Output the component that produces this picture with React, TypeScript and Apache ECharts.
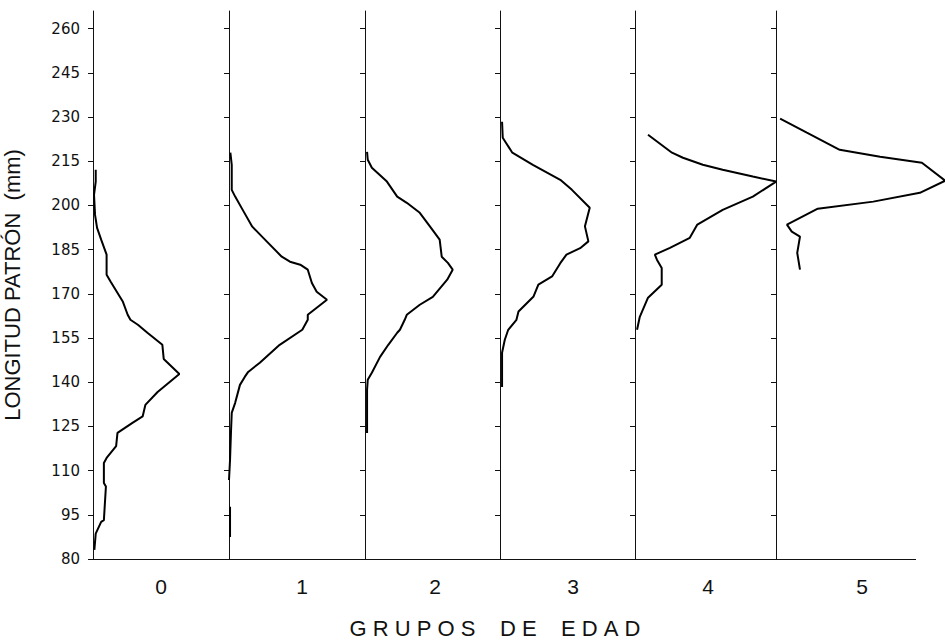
import React, { useEffect, useRef } from 'react';
import * as echarts from 'echarts';

// Length ticks (mm) on the vertical axis
const lengthTicks = [80, 95, 110, 125, 140, 155, 170, 185, 200, 215, 230, 245, 260];
// Age groups along the horizontal axis
const ageGroups = ['0', '1', '2', '3', '4', '5'];

// Each series: [length (mm), relative frequency (%)]
const edad0 = [
  [212.1, 0.4], [208.1, 0.4], [203.6, 0.15], [196.8, 0.3], [192.4, 0.6], [188.4, 1.2],
  [183.3, 2.0], [176.5, 2.0], [174.1, 2.6], [167.3, 4.4], [162.9, 5.1], [161.2, 5.5],
  [159.5, 6.6], [156.8, 8.0], [152.7, 10.2], [147.9, 10.4], [142.8, 12.7], [136.7, 9.5],
  [132.3, 7.7], [128.4, 7.3], [126.2, 5.8], [122.8, 3.6], [118.3, 3.4], [114.3, 2.0],
  [112.6, 1.6], [105.8, 1.6], [104.6, 1.9], [93.2, 1.6], [92.6, 1.2], [88.6, 0.4], [83.1, 0.2],
];
const edad1 = [
  [217.9, 0.2], [213.8, 0.4], [205.3, 0.4], [203.0, 0.9], [198.5, 2.0], [192.8, 3.4],
  [189.0, 5.0], [182.6, 7.7], [180.9, 8.9], [179.9, 10.4], [178.2, 11.5], [173.7, 12.1],
  [170.7, 12.8], [168.0, 14.3], [162.9, 11.5], [161.2, 11.5], [157.8, 10.7], [152.7, 7.4],
  [146.6, 4.5], [143.5, 2.8], [141.8, 2.3], [139.1, 1.6], [133.0, 0.9], [129.6, 0.4],
  [123.8, 0.3], [113.6, 0.15], [106.8, 0], [NaN, NaN], [97.7, 0.15], [87.5, 0.15],
];
const edad2 = [
  [218.2, 0.3], [215.5, 0.4], [212.8, 1.0], [208.1, 3.2], [203.0, 4.7], [200.9, 6.1],
  [197.5, 8.0], [192.8, 9.5], [188.4, 10.9], [182.6, 11.2], [180.5, 12.1], [178.2, 12.8],
  [174.8, 12.0], [169.0, 9.9], [166.3, 8.0], [162.9, 6.1], [161.2, 5.8], [157.8, 5.1],
  [156.8, 4.7], [152.7, 3.4], [148.6, 2.2], [143.2, 1.0], [140.8, 0.4], [137.4, 0.3], [122.8, 0.3],
];
const edad3 = [
  [228.4, 0.3], [223.0, 0.4], [217.9, 1.8], [213.8, 4.8], [208.7, 8.8], [205.3, 10.5],
  [199.2, 13.1], [192.9, 12.4], [187.8, 12.9], [185.5, 11.7], [183.3, 9.7], [180.4, 8.8],
  [175.9, 7.6], [173.1, 5.6], [169.1, 4.9], [164.0, 2.7], [161.2, 2.4], [157.8, 1.2],
  [154.4, 0.7], [150.0, 0.3], [138.4, 0.3],
];
const edad4 = [
  [224.0, 1.9], [217.9, 5.4], [216.2, 7.0], [213.8, 9.9], [212.1, 12.8], [209.8, 17.2],
  [208.1, 20.6], [203.0, 17.2], [198.5, 12.8], [193.5, 9.1], [189.0, 8.0], [185.6, 5.1],
  [183.3, 2.9], [181.6, 3.2], [178.8, 3.9], [173.1, 3.9], [168.7, 1.9], [162.2, 0.7], [157.8, 0.3],
];
const edad5 = [
  [229.5, 0.6], [224.7, 4.5], [218.9, 9.3], [216.5, 15.2], [214.5, 21.3], [208.4, 24.7],
  [204.3, 21.0], [201.3, 14.2], [198.9, 6.1], [193.5, 1.6], [191.1, 2.3], [189.4, 3.5],
  [183.9, 3.1], [178.2, 3.5],
];
const groupSeries = [edad0, edad1, edad2, edad3, edad4, edad5];

const yTitle = 'LONGITUD PATRÓN\u00A0\u00A0(mm)';
const xTitle = 'G\u00A0R\u00A0U\u00A0P\u00A0O\u00A0S\u00A0\u00A0\u00A0\u00A0D\u00A0E\u00A0\u00A0\u00A0\u00A0E\u00A0D\u00A0A\u00A0D';

// layout
const PANEL_EDGES = [92, 229, 365, 500, 635, 776, 916];
const CANVAS_RIGHT = 945;
const PX_PER_UNIT = 6.85;
const NAME_SHIFT = [0, 10, 5, 11, 5, 3];
const FONT = '"Liberation Sans", Arial, sans-serif';

export default function App() {
  const ref = useRef<HTMLDivElement>(null);
  useEffect(() => {
    const chart = echarts.init(ref.current as HTMLDivElement, null, { renderer: 'svg' });
    const grids: any[] = [];
    const xAxes: any[] = [];
    const yAxes: any[] = [];
    const series: any[] = [];
    const lineStyle = { color: '#111', width: 1 };
    const last = ageGroups.length - 1;
    ageGroups.forEach((g, i) => {
      const left = PANEL_EDGES[i];
      const axisWidth = PANEL_EDGES[i + 1] - left;
      // the last panel is allowed to run to the canvas edge (its curve overshoots the axis)
      const width = i === last ? CANVAS_RIGHT - left : axisWidth;
      grids.push({ left, width, top: 11, bottom: 81 });
      xAxes.push({
        gridIndex: i,
        type: 'value',
        min: 0,
        max: width / PX_PER_UNIT,
        axisLine: { show: i !== last, lineStyle },
        axisTick: { show: false },
        axisLabel: { show: false },
        splitLine: { show: false },
        name: g,
        nameLocation: 'middle',
        nameGap: 17,
        nameTextStyle: {
          fontFamily: FONT,
          fontSize: 21,
          color: '#111',
          padding: [0, 0, 0, NAME_SHIFT[i]],
        },
      });
      yAxes.push({
        gridIndex: i,
        type: 'value',
        min: 80,
        max: 266,
        interval: 15,
        axisLine: { show: true, lineStyle },
        axisTick: {
          show: true,
          length: 5,
          customValues: lengthTicks,
          lineStyle,
        },
        axisLabel: {
          show: i === 0,
          customValues: lengthTicks,
          margin: 13,
          fontFamily: '"DejaVu Sans", sans-serif',
          fontSize: 15,
          color: '#111',
        },
        splitLine: { show: false },
        name: i === 0 ? yTitle : '',
        nameLocation: 'middle',
        nameGap: 70,
        nameRotate: 90,
        nameTextStyle: { fontFamily: FONT, fontSize: 22, color: '#111' },
      });
      const s: any = {
        type: 'line',
        xAxisIndex: i,
        yAxisIndex: i,
        data: groupSeries[i].map(([len, f]) => [f, len]),
        symbol: 'none',
        clip: false,
        connectNulls: false,
        silent: true,
        lineStyle: { color: '#000', width: 2 },
      };
      if (i === last) {
        s.markLine = {
          silent: true,
          symbol: 'none',
          label: { show: false },
          lineStyle: { color: '#111', width: 1, type: 'solid' },
          data: [[{ coord: [0, 80] }, { coord: [axisWidth / PX_PER_UNIT, 80] }]],
        };
      }
      series.push(s);
    });
    chart.setOption({
      animation: false,
      backgroundColor: '#fff',
      grid: grids,
      xAxis: xAxes,
      yAxis: yAxes,
      series,
      graphic: [
        {
          type: 'text',
          x: 495,
          y: 628,
          style: {
            text: xTitle,
            fontFamily: FONT,
            fontSize: 22,
            fill: '#111',
            align: 'center',
            verticalAlign: 'middle',
          },
        },
      ],
    });
    return () => chart.dispose();
  }, []);
  return (
    <div
      ref={ref}
      style={{ position: 'absolute', left: 0, top: 0, width: 945, height: 640 }}
    />
  );
}
